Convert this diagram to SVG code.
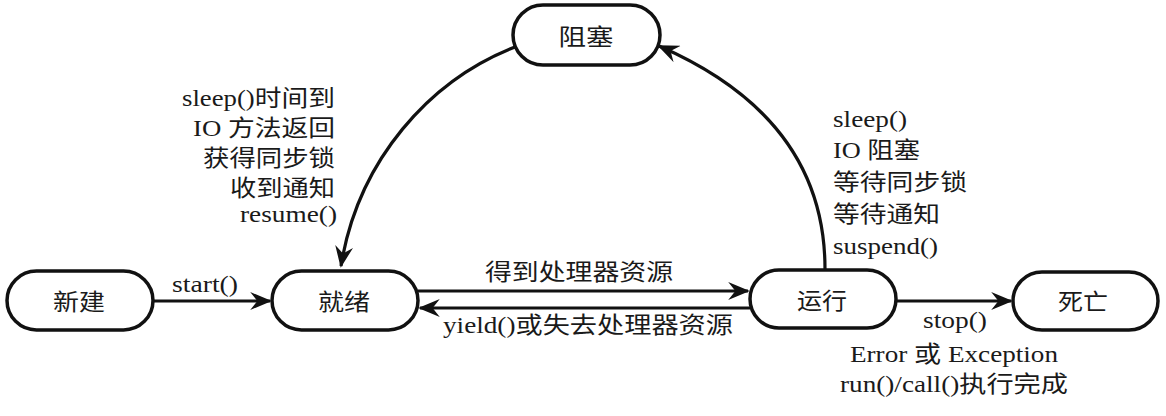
<svg xmlns="http://www.w3.org/2000/svg" width="1166" height="416" viewBox="0 0 1166 416">
<style>
.node rect{fill:#fff;stroke:#111;stroke-width:3.5}
.lbl{font-family:"Liberation Serif","Noto Sans CJK SC",serif;font-size:23px;fill:#1a1a1a}
.c{text-anchor:middle}
.e{text-anchor:end}
.edge{fill:none;stroke:#111;stroke-width:3.2}
</style>
<defs>
<marker id="ah" viewBox="0 0 12 10" refX="11" refY="5" markerUnits="userSpaceOnUse" markerWidth="22" markerHeight="18" orient="auto">
<path d="M0,0 L12,5 L0,10 L4,5 z" fill="#111"/>
</marker>
</defs>
<rect width="1166" height="416" fill="#fff"/>
<g id="edges">
<path class="edge" d="M153,301 L270,301" marker-end="url(#ah)"/>
<path class="edge" d="M418,291 L748,291" marker-end="url(#ah)"/>
<path class="edge" d="M750,308 L420,308" marker-end="url(#ah)"/>
<path class="edge" d="M896,301 L1011,301" marker-end="url(#ah)"/>
<path class="edge" d="M515,47 C430,80 358,160 341,266" marker-end="url(#ah)"/>
<path class="edge" d="M825,269 C825,160 760,90 659,46" marker-end="url(#ah)"/>
</g>
<g id="node-new" class="node"><rect x="7" y="271" width="146" height="59" rx="29.5"/><text class="lbl c" x="79" y="310" textLength="52" lengthAdjust="spacingAndGlyphs">新建</text></g>
<g id="node-ready" class="node"><rect x="272" y="271" width="146" height="59" rx="29.5"/><text class="lbl c" x="344" y="310" textLength="52" lengthAdjust="spacingAndGlyphs">就绪</text></g>
<g id="node-running" class="node"><rect x="750" y="270" width="146" height="58" rx="29"/><text class="lbl c" x="822" y="309" textLength="50" lengthAdjust="spacingAndGlyphs">运行</text></g>
<g id="node-dead" class="node"><rect x="1013" y="272" width="145" height="58" rx="29"/><text class="lbl c" x="1083" y="310" textLength="50" lengthAdjust="spacingAndGlyphs">死亡</text></g>
<g id="node-blocked" class="node"><rect x="513" y="5" width="147" height="60" rx="30"/><text class="lbl c" x="586" y="45" textLength="55" lengthAdjust="spacingAndGlyphs">阻塞</text></g>
<g id="labels">
<text class="lbl c" x="205" y="292" textLength="66" lengthAdjust="spacingAndGlyphs">start()</text>
<text class="lbl c" x="579" y="280" textLength="188" lengthAdjust="spacingAndGlyphs">得到处理器资源</text>
<text class="lbl c" x="588" y="333" textLength="290" lengthAdjust="spacingAndGlyphs">yield()或失去处理器资源</text>
<text class="lbl c" x="955" y="328" textLength="64" lengthAdjust="spacingAndGlyphs">stop()</text>
<text class="lbl c" x="954" y="362" textLength="208" lengthAdjust="spacingAndGlyphs">Error 或 Exception</text>
<text class="lbl c" x="954" y="392" textLength="228" lengthAdjust="spacingAndGlyphs">run()/call()执行完成</text>
<text class="lbl e" x="335" y="106" textLength="153" lengthAdjust="spacingAndGlyphs">sleep()时间到</text>
<text class="lbl e" x="335" y="136" textLength="142" lengthAdjust="spacingAndGlyphs">IO 方法返回</text>
<text class="lbl e" x="335" y="166" textLength="132" lengthAdjust="spacingAndGlyphs">获得同步锁</text>
<text class="lbl e" x="335" y="196" textLength="105" lengthAdjust="spacingAndGlyphs">收到通知</text>
<text class="lbl e" x="337" y="222" textLength="97" lengthAdjust="spacingAndGlyphs">resume()</text>
<text class="lbl" x="833" y="127" textLength="74" lengthAdjust="spacingAndGlyphs">sleep()</text>
<text class="lbl" x="833" y="158" textLength="87" lengthAdjust="spacingAndGlyphs">IO 阻塞</text>
<text class="lbl" x="833" y="190" textLength="134" lengthAdjust="spacingAndGlyphs">等待同步锁</text>
<text class="lbl" x="833" y="222" textLength="107" lengthAdjust="spacingAndGlyphs">等待通知</text>
<text class="lbl" x="833" y="254" textLength="105" lengthAdjust="spacingAndGlyphs">suspend()</text>
</g>
</svg>
